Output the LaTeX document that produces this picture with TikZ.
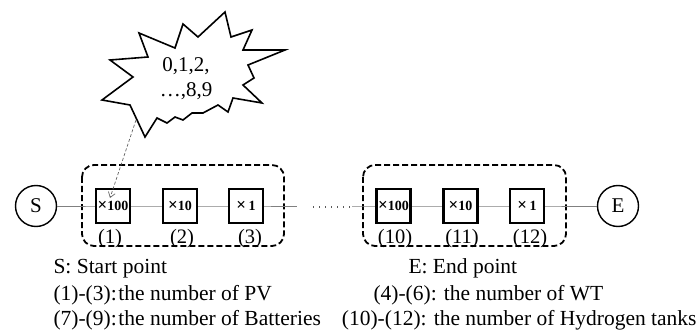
\documentclass[tikz,border=0pt]{standalone}
\usepackage{fontspec}
\setmainfont{Liberation Serif}
\usetikzlibrary{arrows.meta}
\newcommand{\bigtimes}{{\fontsize{17}{14}\selectfont ×}}
\begin{document}
\begin{tikzpicture}[x=1pt,y=-1pt,
  circ/.style={draw,circle,line width=1.4pt,minimum size=41pt,inner sep=0pt,font=\fontsize{21}{21}\selectfont},
  digit/.style={draw,line width=2.3pt,fill=white,minimum size=34pt,inner sep=0pt,font=\bfseries\fontsize{14}{14}\selectfont},
  idx/.style={font=\fontsize{20.5}{20.5}\selectfont,inner sep=0pt},
  group/.style={draw,line width=1.8pt,dash pattern=on 6pt off 3pt,rounded corners=12pt},
  conn/.style={draw,gray,line width=0.8pt},
  dots/.style={draw,gray!70!black,line width=1.4pt,dash pattern=on 1.4pt off 4.6pt},
  burst/.style={draw,line width=1.6pt,line join=miter,fill=white},
  legend/.style={anchor=base west,inner sep=0pt,font=\fontsize{21.5}{21.5}\selectfont},
  pointer/.style={draw,gray!80!black,line width=0.7pt,dash pattern=on 3pt off 2pt,-{Straight Barb[length=5pt,width=7pt]}},
]
\useasboundingbox (0,0) rectangle (698,331);

% burst
\draw[burst] (139,33) -- (175,48) -- (183,24) -- (198,37) -- (225,12) -- (231,37)
  -- (252,30) -- (243,50) -- (285,50) -- (248,65) -- (254,78) -- (243,85)
  -- (262,103) -- (233,98) -- (228,112) -- (218,105) -- (203,113) -- (192,113)
  -- (183,120) -- (175,117) -- (167,123) -- (157,118) -- (145,137) -- (130,105)
  -- (102,100) -- (133,77) -- (110,60) -- (148,57) -- cycle;
\node[align=center,font=\fontsize{21}{25}\selectfont,inner sep=0pt] (bt) at (186,79) {0,1,2,\\…,8,9};
\coordinate (tail) at (136,120);

% groups
\draw[group] (82,165) rectangle (284,246);
\draw[group] (363,165) rectangle (566,246);

% nodes
\node[circ] (S) at (36,206) {S};
\node[circ] (E) at (618,206) {E};
\coordinate (c1) at (297,206);
\coordinate (c2) at (352,206);
\coordinate (d1) at (313,207);
\coordinate (d2) at (351,207);

\draw[conn] (S) -- (113,206) -- (180,206) -- (246,206) -- (c1);
\draw[conn] (c2) -- (527,206) -- (E);
\draw[dots] (d1) -- (d2);

\node[digit] (b1) at (113,206) {\bigtimes100};
\node[digit] (b2) at (180,206) {\bigtimes10};
\node[digit] (b3) at (246,206) {\bigtimes\,1};
\node[digit] (b10) at (393.5,206) {\bigtimes100};
\node[digit] (b11) at (460.5,206) {\bigtimes10};
\node[digit] (b12) at (527,206) {\bigtimes\,1};

\node[idx] (n1) at (110,239) {(1)};
\node[idx] (n2) at (182,239) {(2)};
\node[idx] (n3) at (250,239) {(3)};
\node[idx] (n10) at (395,239) {(10)};
\node[idx] (n11) at (462,239) {(11)};
\node[idx] (n12) at (530,239) {(12)};

\draw[pointer] (tail) -- ([shift={(-3,-8)}]b1.center);

% legend
\node[legend] (l1) at (53.3,273.3) {S: Start point};
\node[legend] (l2) at (53.3,300) {(1)-(3):\hspace{0.08em}the number of PV};
\node[legend] (l3) at (53.3,325) {(7)-(9):\hspace{0.08em}the number of Batteries};
\node[legend] (r1) at (408.3,273.3) {E: End point};
\node[legend] (r2) at (373.3,300) {(4)-(6): the number of WT};
\node[legend] (r3) at (341.7,325) {(10)-(12): the number of Hydrogen tanks};
\end{tikzpicture}
\end{document}
